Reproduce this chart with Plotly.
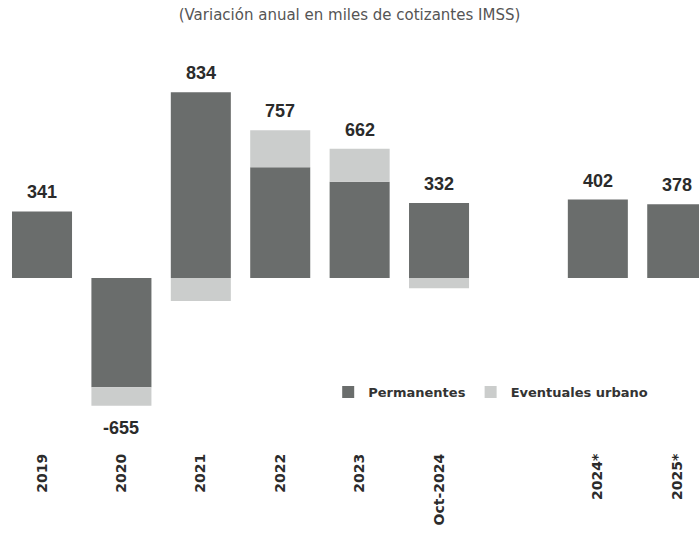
import plotly.graph_objects as go

categories = ["2019", "2020", "2021", "2022", "2023", "Oct-2024", "2024*", "2025*"]
permanentes = [341, -560, 952, 568, 493, 385, 402, 378]
eventuales = [0, -95, -118, 189, 169, -53, 0, 0]
totales = [341, -655, 834, 757, 662, 332, 402, 378]

axis_order = categories[:6] + [" "] + categories[6:]

DARK = "#6a6d6c"
LIGHT = "#cbcdcc"

fig = go.Figure()
fig.add_trace(go.Bar(x=categories, y=permanentes, name="Permanentes",
                     marker=dict(color=DARK, line=dict(width=0))))
fig.add_trace(go.Bar(x=categories, y=eventuales, name="Eventuales urbano",
                     marker=dict(color=LIGHT, line=dict(width=0))))

for c, p, e, t in zip(categories, permanentes, eventuales, totales):
    if t >= 0:
        top = max(p, 0) + max(e, 0)
        shift = 19
    else:
        top = min(p, 0) + min(e, 0)
        shift = -22
    fig.add_annotation(x=axis_order.index(c), y=top, text=str(t), showarrow=False,
                       yanchor="middle", yshift=shift,
                       font=dict(family="Liberation Sans, Arial", size=18,
                                 color="#2b2b2b", weight="bold"))

fig.update_layout(
    width=699, height=541,
    margin=dict(l=2, r=0, t=40, b=96, autoexpand=False),
    paper_bgcolor="white", plot_bgcolor="white",
    barmode="relative", bargap=0.244,
    title=dict(text="(Variación anual en miles de cotizantes IMSS)", x=0.5, xanchor="center",
               y=0.972, yanchor="middle", automargin=False,
               font=dict(family="DejaVu Sans", size=15, color="#555555")),
    xaxis=dict(type="category", categoryorder="array", categoryarray=axis_order,
               range=[-0.504, 8.274], tickangle=-90, showgrid=False, zeroline=False,
               showline=False, ticks="", automargin=False, ticklabelstandoff=5,
               tickfont=dict(family="DejaVu Sans", size=14, color="#2b2b2b", weight="bold")),
    yaxis=dict(range=[-856, 1220], visible=False, showgrid=False, zeroline=False,
               automargin=False),
    legend=dict(orientation="h", x=0.468, y=0.131, xanchor="left", yanchor="middle",
                itemwidth=30,
                font=dict(family="DejaVu Sans", size=13, color="#333333", weight="bold"),
                bgcolor="rgba(0,0,0,0)"),
    showlegend=True,
)

fig.write_html("out.html", config={"displayModeBar": False},
               post_script="document.body.style.margin='0';document.body.style.overflow='hidden';")
